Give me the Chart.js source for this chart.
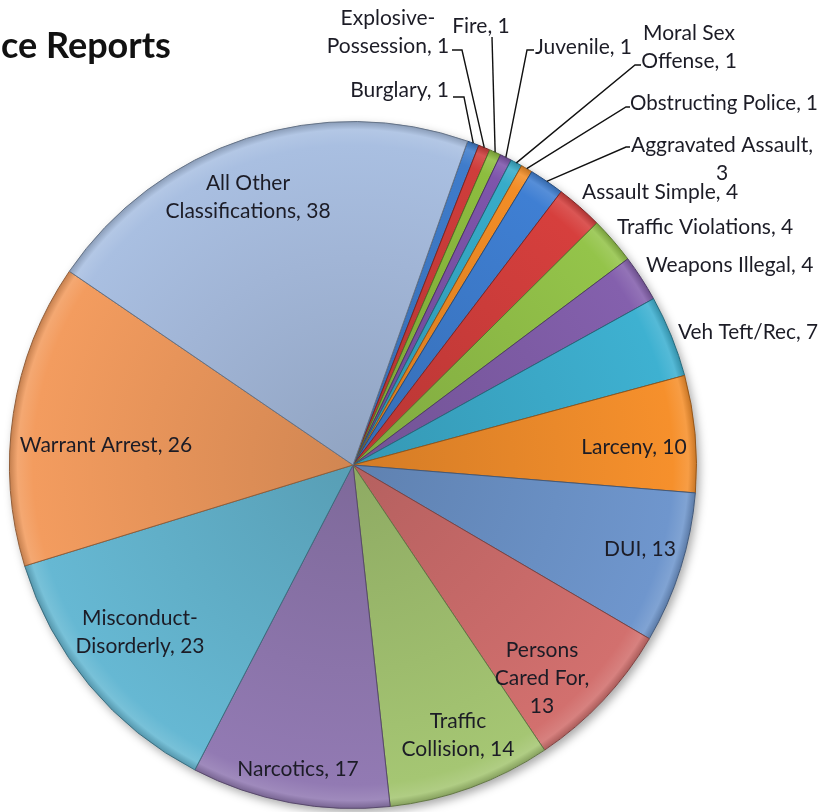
<!DOCTYPE html>
<html>
<head>
<meta charset="utf-8">
<title>ce Reports</title>
<script src="https://cdn.jsdelivr.net/npm/chart.js@4.4.1/dist/chart.umd.min.js"></script>
<style>
  html, body { margin: 0; padding: 0; background: #fff; }
  #wrap { position: relative; width: 823px; height: 812px; }
</style>
</head>
<body>
<div id="wrap"><canvas id="chartPie"></canvas></div>
<script>
/* =============================================
   DATA (sorted ascending, as in the sheet)
   ============================================= */
const categories = [
  'Burglary', 'Explosive-Possession', 'Fire', 'Juvenile', 'Moral Sex Offense',
  'Obstructing Police', 'Aggravated Assault', 'Assault Simple', 'Traffic Violations',
  'Weapons Illegal', 'Veh Teft/Rec', 'Larceny', 'DUI', 'Persons Cared For',
  'Traffic Collision', 'Narcotics', 'Misconduct-Disorderly', 'Warrant Arrest',
  'All Other Classifications'
];
const counts = [1, 1, 1, 1, 1, 1, 3, 4, 4, 4, 7, 10, 13, 13, 14, 17, 23, 26, 38];

const sliceColors = [
  '#3f7ccb', '#cf3d3b', '#8dbd3f', '#7e55ab', '#37acc9', '#f28d26',
  '#3f7fd3', '#d63f3d', '#94c44a', '#8460ad', '#3eb1d1', '#f6902c',
  '#6f96cd', '#d2706e', '#a5c673', '#927ab3', '#66b8d3', '#f39c5f',
  '#a9bfe1'
];

const chartTitle = 'ce Reports';

/* =============================================
   LABEL PLACEMENT (text centre / anchor, px)
   leader: elbow points from the slice edge outwards
   fit: squeeze a line into this width (right edge labels)
   ============================================= */
const labelLayout = [
  { x: 449, y: 90,  w: 200, align: 'right',  leader: [[464, 97], [453, 97]] },
  { x: 388, y: 18,  w: 140, align: 'center', leader: [[462, 50], [452, 50]] },
  { x: 481, y: 26,  w: 200, align: 'center', leader: [[492, 37]] },
  { x: 535, y: 47,  w: 200, align: 'left',   leader: [[527, 50], [534, 50]] },
  { x: 689, y: 33,  w: 100, align: 'center', leader: [[635, 65], [641, 65]] },
  { x: 630, y: 103, w: 260, align: 'left',   leader: [[626, 107], [630, 107]], fit: 188 },
  { x: 722, y: 145, w: 192, align: 'center', leader: [[626, 147], [630, 147]] },
  { x: 582, y: 192, w: 260, align: 'left' },
  { x: 617, y: 227, w: 260, align: 'left' },
  { x: 646, y: 265, w: 260, align: 'left', fit: 170 },
  { x: 678, y: 332, w: 260, align: 'left', fit: 140 },
  { x: 634, y: 447, w: 200, align: 'center' },
  { x: 640, y: 549, w: 200, align: 'center' },
  { x: 542, y: 650, w: 105, align: 'center' },
  { x: 458, y: 721, w: 125, align: 'center' },
  { x: 298, y: 769, w: 200, align: 'center' },
  { x: 140, y: 618, w: 150, align: 'center' },
  { x: 106, y: 445, w: 220, align: 'center' },
  { x: 248, y: 183, w: 180, align: 'center' }
];

const LABEL_FONT = '21px Lato, "Open Sans", sans-serif';
const LINE_H = 28;

/* =============================================
   HELPERS
   ============================================= */
function shade(hex, f) {
  const n = parseInt(hex.slice(1), 16);
  const ch = [(n >> 16) & 255, (n >> 8) & 255, n & 255].map(c =>
    f < 1 ? Math.round(c * f) : Math.round(c + (255 - c) * (f - 1)));
  return `rgb(${ch[0]},${ch[1]},${ch[2]})`;
}

/* greedy wrap, breaking after spaces and hyphens */
function wrapText(ctx, text, maxW) {
  const tokens = text.match(/[^\s-]+-?\s*|\s+/g) || [text];
  const lines = [];
  let cur = '';
  tokens.forEach(t => {
    const test = cur + t;
    if (cur && ctx.measureText(test.trimEnd()).width > maxW) {
      lines.push(cur.trimEnd());
      cur = t;
    } else {
      cur = test;
    }
  });
  if (cur) lines.push(cur.trimEnd());
  return lines;
}

/* =============================================
   PLUGINS
   ============================================= */
const pieShadow = {
  id: 'pieShadow',
  beforeDatasetsDraw(chart) {
    const arc = chart.getDatasetMeta(0).data[0];
    if (!arc) return;
    const { ctx } = chart;
    ctx.save();
    ctx.shadowColor = 'rgba(0,0,0,0.35)';
    ctx.shadowBlur = 10;
    ctx.shadowOffsetX = 3;
    ctx.shadowOffsetY = 4;
    ctx.fillStyle = '#fff';
    ctx.beginPath();
    ctx.arc(arc.x, arc.y, arc.outerRadius, 0, Math.PI * 2);
    ctx.fill();
    ctx.restore();
  }
};

const sliceLabels = {
  id: 'sliceLabels',
  afterDatasetsDraw(chart) {
    const { ctx } = chart;
    const arcs = chart.getDatasetMeta(0).data;
    ctx.save();

    // title (cropped in the source picture)
    ctx.fillStyle = '#111';
    ctx.font = 'bold 36px Lato, "Open Sans", sans-serif';
    ctx.textAlign = 'left';
    ctx.textBaseline = 'alphabetic';
    ctx.fillText(chartTitle, 1, 58);

    ctx.font = LABEL_FONT;
    ctx.textBaseline = 'middle';
    arcs.forEach((arc, i) => {
      const lay = labelLayout[i];
      if (!lay) return;

      // leader line from the outer edge of the slice
      if (lay.leader) {
        const mid = (arc.startAngle + arc.endAngle) / 2;
        ctx.strokeStyle = '#111';
        ctx.lineWidth = 1.4;
        ctx.beginPath();
        ctx.moveTo(arc.x + Math.cos(mid) * arc.outerRadius, arc.y + Math.sin(mid) * arc.outerRadius);
        lay.leader.forEach(([px, py]) => ctx.lineTo(px, py));
        ctx.stroke();
      }

      const text = `${categories[i]}, ${counts[i]}`;
      const lines = wrapText(ctx, text, lay.w);
      ctx.fillStyle = '#1c1c26';
      ctx.textAlign = lay.align;
      lines.forEach((ln, k) => {
        if (lay.fit) ctx.fillText(ln, lay.x, lay.y + k * LINE_H, lay.fit);
        else ctx.fillText(ln, lay.x, lay.y + k * LINE_H);
      });
    });
    ctx.restore();
  }
};

/* =============================================
   CHART
   ============================================= */
function sliceFill(c) {
  const base = sliceColors[c.dataIndex];
  const area = c.chart.chartArea;
  if (!area) return base;
  const cx = (area.left + area.right) / 2;
  const cy = (area.top + area.bottom) / 2;
  const r = Math.min(area.right - area.left, area.bottom - area.top) / 2;
  const g = c.chart.ctx.createRadialGradient(cx, cy, 0, cx, cy, r);
  g.addColorStop(0, shade(base, 0.86));
  g.addColorStop(0.6, shade(base, 0.95));
  g.addColorStop(0.93, base);
  g.addColorStop(0.975, shade(base, 1.12));
  g.addColorStop(1, shade(base, 0.8));
  return g;
}

new Chart(document.getElementById('chartPie').getContext('2d'), {
  type: 'pie',
  data: {
    labels: categories,
    datasets: [{
      data: counts,
      backgroundColor: sliceFill,
      borderColor: sliceColors.map(col => shade(col, 0.6)),
      borderWidth: 1
    }]
  },
  options: {
    responsive: true,
    maintainAspectRatio: false,
    animation: false,
    rotation: 19.5,
    layout: { padding: { left: 9, right: 126, top: 121, bottom: 3 } },
    plugins: {
      legend: { display: false },
      tooltip: { enabled: false }
    }
  },
  plugins: [pieShadow, sliceLabels]
});
</script>
</body>
</html>
